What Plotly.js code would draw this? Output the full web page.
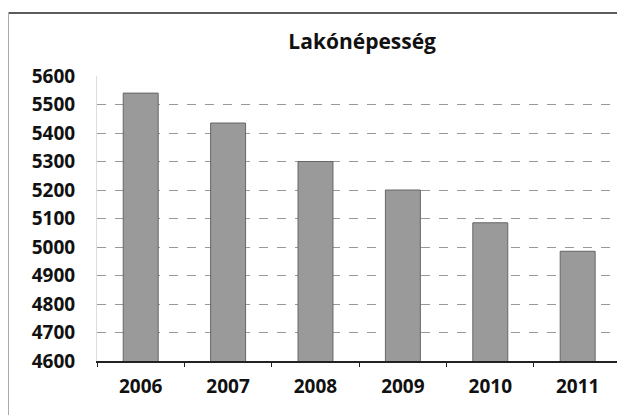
<!DOCTYPE html>
<html>
<head>
<meta charset="utf-8">
<script src="https://cdn.plot.ly/plotly-3.0.1.min.js"></script>
<style>
html,body{margin:0;padding:0;background:#fff;overflow:hidden;}
#wrap{position:relative;width:617px;height:415px;}
#chart{position:absolute;left:0;top:0;width:617px;height:415px;}
.bt{position:absolute;left:8px;top:12px;width:609px;height:2px;background:#333;opacity:0.8;}
.bl{position:absolute;left:8px;top:12px;width:1px;height:403px;background:#aaa;}
</style>
</head>
<body>
<div id="wrap">
<div id="chart"></div>
<div class="bt"></div>
<div class="bl"></div>
</div>
<script>
const years = ['2006','2007','2008','2009','2010','2011'];
const population = [5540, 5435, 5300, 5200, 5085, 4985];
const titleText = 'Lakónépesség';

const trace = {
  type: 'bar',
  x: years,
  y: population,
  marker: {color: '#9a9a9a', line: {color: '#666', width: 1}},
  hoverinfo: 'x+y'
};

const layout = {
  width: 617, height: 415,
  margin: {l: 97, r: 0, t: 76, b: 54},
  paper_bgcolor: '#fff', plot_bgcolor: '#fff',
  bargap: 0.6,
  showlegend: false,
  title: {text: titleText, xref: 'container', x: 0.587, xanchor: 'center', yref: 'container', y: 0.9, yanchor: 'middle',
          font: {family: 'Open Sans, sans-serif', size: 21, color: '#111', weight: 'bold'}},
  xaxis: {
    type: 'category',
    range: [-0.5, 5.45],
    showgrid: false,
    showline: true, linecolor: '#222', linewidth: 1.5,
    ticks: 'outside', tickson: 'boundaries', ticklen: 4, tickcolor: '#222',
    tickfont: {family: 'Open Sans, sans-serif', size: 19, color: '#111', weight: 'bold'},
    ticklabelstandoff: 8
  },
  yaxis: {
    range: [4600, 5600], dtick: 100,
    showgrid: true, gridcolor: '#999', griddash: 'dash', gridwidth: 1,
    showline: true, linecolor: '#ddd', linewidth: 1,
    zeroline: false,
    ticks: '',
    tickfont: {family: 'Open Sans, sans-serif', size: 19, color: '#111', weight: 'bold'},
    ticklabelstandoff: 17
  }
};

Plotly.newPlot('chart', [trace], layout, {displayModeBar: false, staticPlot: true});
</script>
</body>
</html>
